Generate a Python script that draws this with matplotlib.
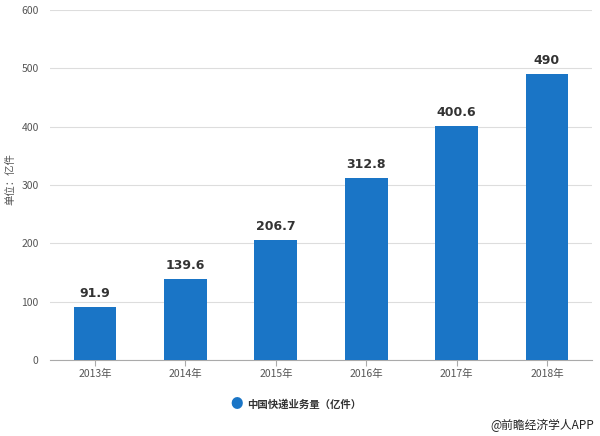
import matplotlib.pyplot as plt
import numpy as np

plt.rcParams['font.family'] = ['Noto Sans CJK SC', 'DejaVu Sans']

years = ["2013年", "2014年", "2015年", "2016年", "2017年", "2018年"]
volumes = [91.9, 139.6, 206.7, 312.8, 400.6, 490]
value_labels = ["91.9", "139.6", "206.7", "312.8", "400.6", "490"]
series_name = "中国快递业务量（亿件）"

bar_color = "#1a75c6"

fig = plt.figure(figsize=(6, 4.36), dpi=100)
axis = fig.add_axes([0.083, 0.174, 0.904, 0.803])

x = np.arange(len(years))
bars = axis.bar(x, volumes, width=0.475, color=bar_color, zorder=3)
axis.bar_label(bars, labels=value_labels, padding=5, fontsize=9,
               fontweight="bold", color="#333333", family="DejaVu Sans")

axis.set_xlim(-0.5, len(years) - 0.5)
axis.set_ylim(0, 600)
axis.set_yticks(np.arange(0, 601, 100))
axis.set_xticks(x)
axis.set_xticklabels(years, fontsize=7.5, color="#555555")
axis.tick_params(axis="y", length=0, labelsize=7.5, labelcolor="#555555", pad=8)
axis.tick_params(axis="x", length=4, color="#aaaaaa", pad=2)
axis.grid(axis="y", color="#dddddd", linewidth=0.8, zorder=0)
for side in ["top", "right", "left"]:
    axis.spines[side].set_visible(False)
axis.spines["bottom"].set_color("#aaaaaa")

# y unit label
fig.text(0.018, 0.59, "单位：亿件", fontsize=7.5, color="#555555",
         rotation=90, ha="center", va="center")

# legend at bottom
fig.text(0.395, 0.072, "●", fontsize=9, color=bar_color, va="center", ha="center")
fig.text(0.412, 0.072, series_name, fontsize=7.5, fontweight="bold",
         color="#333333", va="center")
# source
fig.text(0.99, 0.025, "@前瞻经济学人APP", fontsize=8.5, color="#222222",
         ha="right", va="center")

fig.savefig("out.png")
